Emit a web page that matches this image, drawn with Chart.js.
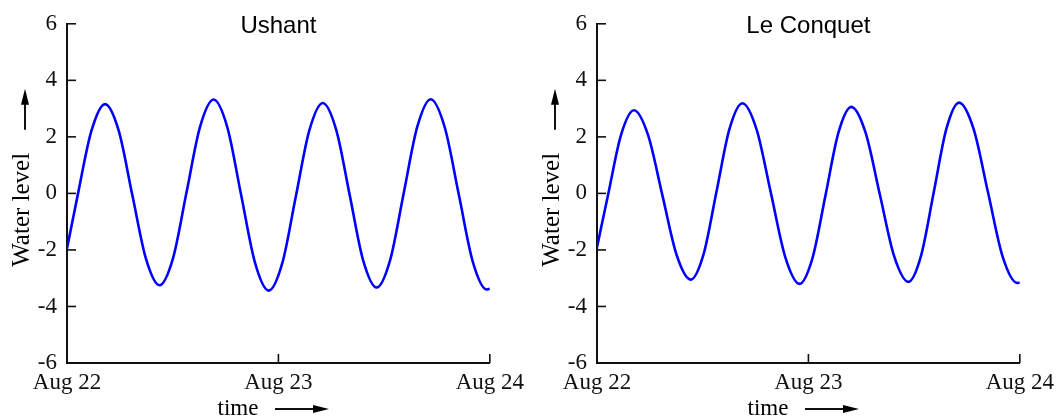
<!DOCTYPE html>
<html>
<head>
<meta charset="utf-8">
<script src="https://cdn.jsdelivr.net/npm/chart.js@4/dist/chart.umd.min.js"></script>
<style>
  body { margin: 0; background: #fff; }
  .row { display: flex; width: 1060px; height: 419px; }
  .box { width: 530px; height: 419px; position: relative; }
</style>
</head>
<body>
<div class="row">
  <div class="box"><canvas id="ushant"></canvas></div>
  <div class="box"><canvas id="conquet"></canvas></div>
</div>
<script>
// hours after Aug 22 00:00, water level
var ushantHours = [0, 1.21, 2.77, 4.32, 5.87, 7.41, 8.96, 10.5, 12.04, 13.57, 15.11, 16.64, 18.21, 19.77, 21.34, 22.9, 24.44, 25.97, 27.51, 29.04, 30.57, 32.1, 33.62, 35.15, 36.69, 38.22, 39.76, 41.29, 42.88, 44.48, 46.07, 47.66, 48];
var ushantLevel = [-1.95, -0.07, 2.21, 3.16, 2.22, -0.05, -2.31, -3.25, -2.29, 0.04, 2.36, 3.32, 2.33, -0.06, -2.45, -3.44, -2.47, -0.12, 2.23, 3.2, 2.24, -0.07, -2.37, -3.33, -2.35, 0.0, 2.35, 3.33, 2.34, -0.04, -2.42, -3.4, -3.37];

var conquetHours = [0, 1.27, 2.73, 4.19, 5.8, 7.42, 9.03, 10.64, 12.11, 13.57, 15.04, 16.5, 18.13, 19.75, 21.38, 23.0, 24.47, 25.94, 27.4, 28.87, 30.49, 32.11, 33.73, 35.35, 36.79, 38.23, 39.66, 41.1, 42.75, 44.4, 46.05, 47.7, 48];
var conquetLevel = [-1.9, -0.03, 2.07, 2.94, 2.06, -0.06, -2.17, -3.05, -2.14, 0.07, 2.28, 3.19, 2.25, 0.0, -2.26, -3.2, -2.28, -0.07, 2.14, 3.06, 2.15, -0.04, -2.22, -3.13, -2.2, 0.04, 2.28, 3.21, 2.28, 0.02, -2.24, -3.17, -3.16];

var dayTicks = [0, 24, 48];
var dayLabels = ["Aug 22", "Aug 23", "Aug 24"];
var levelTicks = [-6, -4, -2, 0, 2, 4, 6];

var serif = '"Liberation Serif", "Times New Roman", serif';

// inward tick marks, title inside the plot, axis titles with arrows
var decor = {
    id: 'decor',
    afterDraw: function (chart, args, opts) {
        var ctx = chart.ctx, a = chart.chartArea;
        var xs = chart.scales.x, ys = chart.scales.y;
        ctx.save();
        ctx.strokeStyle = '#111';
        ctx.fillStyle = '#111';
        ctx.lineWidth = 1.6;
        levelTicks.forEach(function (v) {
            var py = ys.getPixelForValue(v);
            ctx.beginPath(); ctx.moveTo(a.left, py); ctx.lineTo(a.left + 9, py); ctx.stroke();
        });
        dayTicks.forEach(function (v) {
            var px = xs.getPixelForValue(v);
            ctx.beginPath(); ctx.moveTo(px, a.bottom); ctx.lineTo(px, a.bottom - 9); ctx.stroke();
        });

        // title
        ctx.fillStyle = '#000';
        ctx.font = '24px "Liberation Sans", Arial, sans-serif';
        ctx.textAlign = 'center';
        ctx.textBaseline = 'alphabetic';
        ctx.fillText(opts.title, (a.left + a.right) / 2, a.top + 9);

        // y title
        ctx.font = '25px ' + serif;
        ctx.save();
        ctx.translate(a.left - 45, a.top + 186);
        ctx.rotate(-Math.PI / 2);
        ctx.textBaseline = 'middle';
        ctx.fillText('Water level', 0, 0);
        ctx.restore();
        var ax = a.left - 42;
        ctx.lineWidth = 2;
        ctx.beginPath(); ctx.moveTo(ax, a.top + 106); ctx.lineTo(ax, a.top + 78); ctx.stroke();
        ctx.beginPath(); ctx.moveTo(ax, a.top + 65); ctx.lineTo(ax - 4, a.top + 81); ctx.lineTo(ax + 4, a.top + 81); ctx.closePath(); ctx.fill();

        // x title
        ctx.font = '23px ' + serif;
        ctx.textBaseline = 'alphabetic';
        ctx.fillText('time', a.left + 171, a.bottom + 52);
        var ay = a.bottom + 46;
        ctx.beginPath(); ctx.moveTo(a.left + 208, ay); ctx.lineTo(a.left + 250, ay); ctx.stroke();
        ctx.beginPath(); ctx.moveTo(a.left + 262, ay); ctx.lineTo(a.left + 246, ay - 4); ctx.lineTo(a.left + 246, ay + 4); ctx.closePath(); ctx.fill();
        ctx.restore();
    }
};

function makeChart(id, title, hours, level) {
    var pts = hours.map(function (h, i) { return { x: h, y: level[i] }; });
    return new Chart(document.getElementById(id), {
        type: 'line',
        data: {
            datasets: [{
                data: pts,
                borderColor: '#0000ff',
                borderWidth: 2.6,
                pointRadius: 0,
                fill: false,
                cubicInterpolationMode: 'monotone'
            }]
        },
        plugins: [decor],
        options: {
            responsive: true,
            maintainAspectRatio: false,
            animation: false,
            events: [],
            layout: { padding: { top: 23, right: 40, left: 0, bottom: 0 } },
            plugins: {
                legend: { display: false },
                tooltip: { enabled: false },
                decor: { title: title }
            },
            scales: {
                x: {
                    type: 'linear',
                    min: 0,
                    max: 48,
                    afterBuildTicks: function (s) { s.ticks = dayTicks.map(function (v) { return { value: v }; }); },
                    afterFit: function (s) { s.height = 56; },
                    ticks: {
                        color: '#111',
                        font: { family: serif, size: 23 },
                        padding: 6,
                        maxRotation: 0,
                        autoSkip: false,
                        callback: function (v) { return dayLabels[dayTicks.indexOf(v)]; }
                    },
                    grid: { drawOnChartArea: false, drawTicks: false },
                    border: { display: true, color: '#111', width: 2 }
                },
                y: {
                    min: -6,
                    max: 6,
                    afterBuildTicks: function (s) { s.ticks = levelTicks.map(function (v) { return { value: v }; }); },
                    afterFit: function (s) { s.width = 67; },
                    ticks: {
                        color: '#111',
                        font: { family: serif, size: 23 },
                        padding: 10
                    },
                    grid: { drawOnChartArea: false, drawTicks: false },
                    border: { display: true, color: '#111', width: 2 }
                }
            }
        }
    });
}

makeChart('ushant', 'Ushant', ushantHours, ushantLevel);
makeChart('conquet', 'Le Conquet', conquetHours, conquetLevel);
</script>
</body>
</html>
